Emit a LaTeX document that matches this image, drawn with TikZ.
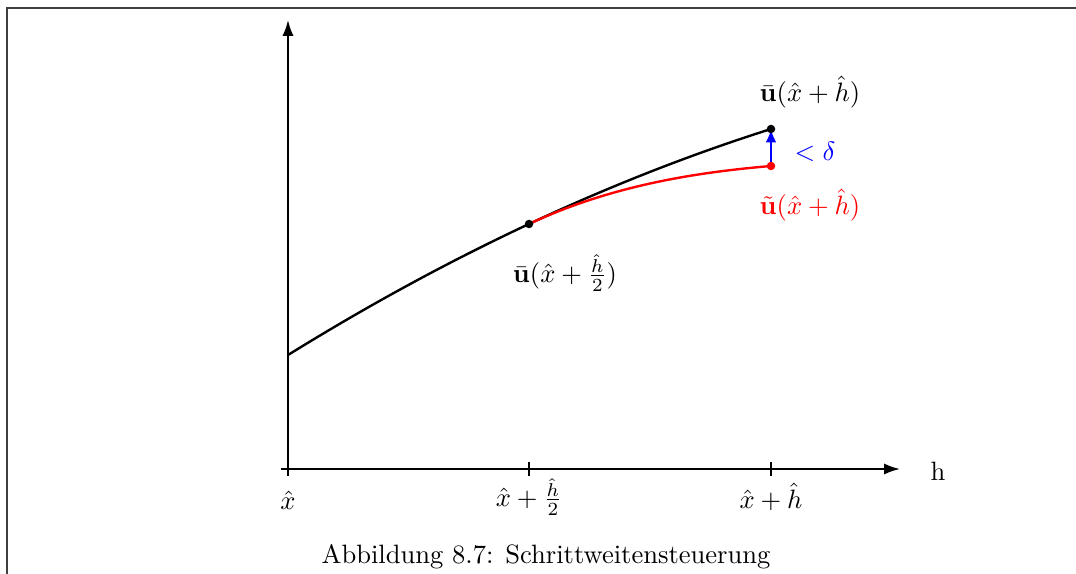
\documentclass[tikz,border=0pt]{standalone}
\usetikzlibrary{arrows.meta}
\begin{document}
\begin{tikzpicture}[x=0.3766pt,y=-0.3766pt,
  axis/.style={line width=0.75pt,draw=black},
  curve/.style={line width=0.9pt},
  dot/.style={circle,fill,inner sep=0pt,minimum size=3.2pt},
  lbl/.style={inner sep=1pt}]
\useasboundingbox (0,0) rectangle (1076,574);
% frame
\draw[line width=0.7pt,draw=black!75] (7,574) -- (7,8) -- (1076,8);
% coordinates
\coordinate (O) at (288,469);
\coordinate (ytop) at (288,20);
\coordinate (xs) at (281,469);
\coordinate (xe) at (900,469);
\coordinate (A) at (288,355);
\coordinate (M) at (529,224);
\coordinate (B) at (771,129);
\coordinate (R) at (771,166);
% axes
\draw[axis,-{Latex[length=6pt,width=4.2pt]}] (O) -- (ytop);
\draw[axis,-{Latex[length=6pt,width=4.2pt]}] (xs) -- (xe);
\foreach \x in {288,529,771}{
  \draw[axis] (\x,462) -- (\x,476);
}
\node[lbl] (hl) at (938,471) {h};
\node[lbl] (l0) at (288,500) {$\hat{x}$};
\node[lbl] (l1) at (529,497) {$\hat{x}+\frac{\hat{h}}{2}$};
\node[lbl] (l2) at (771,497) {$\hat{x}+\hat{h}$};
% curves
\draw[curve] (A) .. controls (449,255.3) and (610,180) .. (B);
\draw[curve,red] (M) .. controls (609,186.6) and (691,172.8) .. (R);
% error arrow
\draw[line width=0.9pt,blue,-{Latex[length=5pt,width=4pt]}] (R) -- (B);
% dots
\node[dot] (dM) at (M) {};
\node[dot] (dB) at (B) {};
\node[dot,red] (dR) at (R) {};
% labels
\node[lbl] (uB) at (810,92) {$\bar{\mathbf{u}}(\hat{x}+\hat{h})$};
\node[lbl,red] (uR) at (810,205) {$\tilde{\mathbf{u}}(\hat{x}+\hat{h})$};
\node[lbl,blue] (del) at (815,152) {$<\delta$};
\node[lbl] (uM) at (565,273) {$\bar{\mathbf{u}}(\hat{x}+\frac{\hat{h}}{2})$};
% caption
\node[lbl] (cap) at (546,557) {Abbildung 8.7: Schrittweitensteuerung};
\end{tikzpicture}
\end{document}
